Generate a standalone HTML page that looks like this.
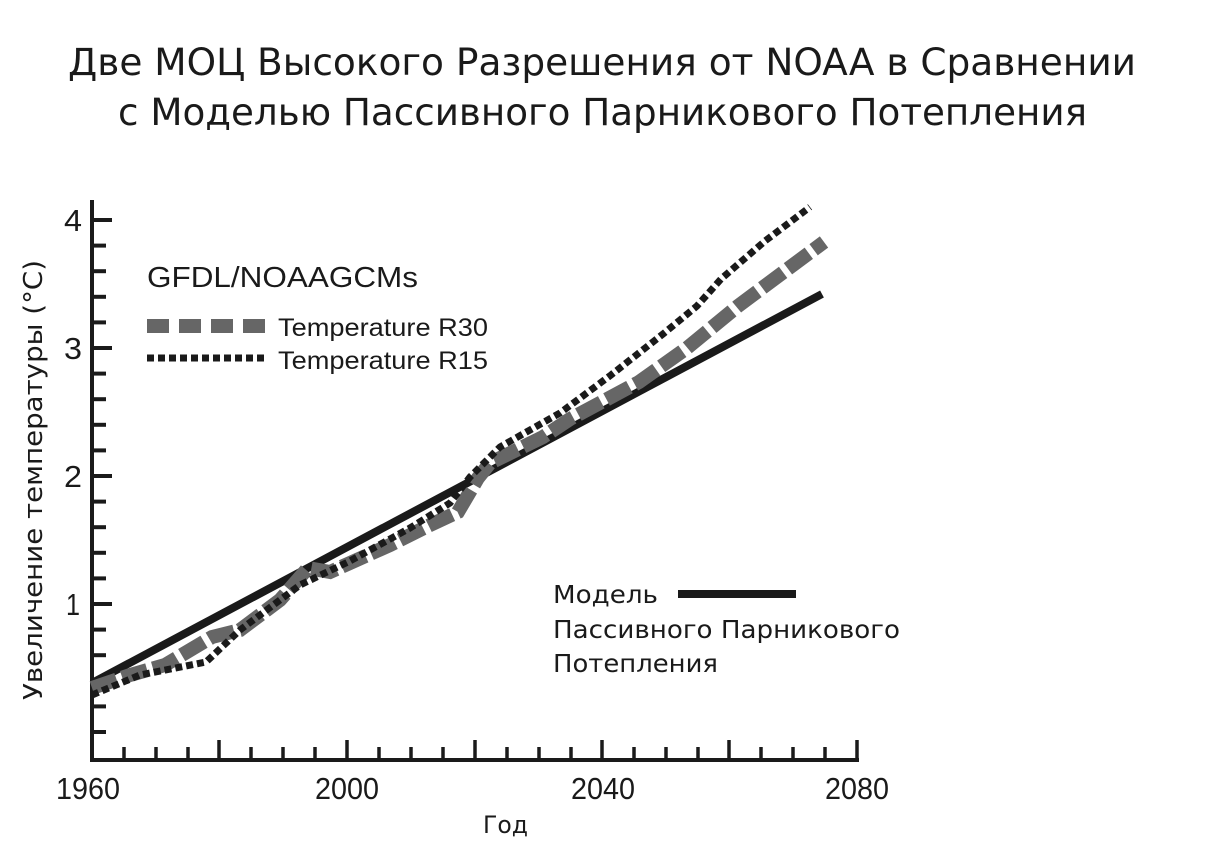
<!DOCTYPE html>
<html><head><meta charset="utf-8"><style>
html,body{margin:0;padding:0;background:#fff;}
svg{display:block;}
text{font-family:"Liberation Sans","DejaVu Sans",sans-serif;fill:#1a1a1a;}
.t{font-family:"DejaVu Sans","Liberation Sans",sans-serif;}
</style></head><body>
<svg width="1206" height="859" viewBox="0 0 1206 859" xmlns="http://www.w3.org/2000/svg">
<text class="t" x="68" y="75" font-size="37" textLength="1068" lengthAdjust="spacingAndGlyphs">Две МОЦ Высокого Разрешения от NOAA в Сравнении</text>
<text class="t" x="118" y="125" font-size="37" textLength="969" lengthAdjust="spacingAndGlyphs">с Моделью Пассивного Парникового Потепления</text>

<text class="t" transform="translate(42,700) rotate(-90)" font-size="26" textLength="440" lengthAdjust="spacingAndGlyphs">Увеличение температуры (°C)</text>

<g stroke="#1a1a1a" stroke-width="4" fill="none">
<line x1="92" y1="200" x2="92" y2="762"/>
<line x1="90" y1="760" x2="859" y2="760"/>
</g>
<g stroke="#1a1a1a" stroke-width="4">
<line x1="92" y1="220" x2="112" y2="220"/><line x1="92" y1="245.6" x2="106" y2="245.6"/><line x1="92" y1="271.2" x2="106" y2="271.2"/><line x1="92" y1="296.8" x2="106" y2="296.8"/><line x1="92" y1="322.4" x2="106" y2="322.4"/>
<line x1="92" y1="348" x2="112" y2="348"/><line x1="92" y1="373.6" x2="106" y2="373.6"/><line x1="92" y1="399.2" x2="106" y2="399.2"/><line x1="92" y1="424.8" x2="106" y2="424.8"/><line x1="92" y1="450.4" x2="106" y2="450.4"/>
<line x1="92" y1="476" x2="112" y2="476"/><line x1="92" y1="501.6" x2="106" y2="501.6"/><line x1="92" y1="527.2" x2="106" y2="527.2"/><line x1="92" y1="552.8" x2="106" y2="552.8"/><line x1="92" y1="578.4" x2="106" y2="578.4"/>
<line x1="92" y1="604" x2="112" y2="604"/><line x1="92" y1="629.6" x2="106" y2="629.6"/><line x1="92" y1="655.2" x2="106" y2="655.2"/><line x1="92" y1="680.8" x2="106" y2="680.8"/><line x1="92" y1="706.4" x2="106" y2="706.4"/><line x1="92" y1="732" x2="106" y2="732"/>
</g>
<g stroke="#1a1a1a" stroke-width="3.5">
<line x1="124" y1="760" x2="124" y2="747"/><line x1="156" y1="760" x2="156" y2="747"/><line x1="188" y1="760" x2="188" y2="747"/><line x1="219" y1="760" x2="219" y2="740"/>
<line x1="251" y1="760" x2="251" y2="747"/><line x1="283" y1="760" x2="283" y2="747"/><line x1="315" y1="760" x2="315" y2="747"/><line x1="347" y1="760" x2="347" y2="740"/>
<line x1="379" y1="760" x2="379" y2="747"/><line x1="411" y1="760" x2="411" y2="747"/><line x1="443" y1="760" x2="443" y2="747"/><line x1="475" y1="760" x2="475" y2="740"/>
<line x1="507" y1="760" x2="507" y2="747"/><line x1="539" y1="760" x2="539" y2="747"/><line x1="571" y1="760" x2="571" y2="747"/><line x1="602" y1="760" x2="602" y2="740"/>
<line x1="634" y1="760" x2="634" y2="747"/><line x1="666" y1="760" x2="666" y2="747"/><line x1="698" y1="760" x2="698" y2="747"/><line x1="729" y1="760" x2="729" y2="740"/>
<line x1="761" y1="760" x2="761" y2="747"/><line x1="793" y1="760" x2="793" y2="747"/><line x1="825" y1="760" x2="825" y2="747"/><line x1="857" y1="760" x2="857" y2="740"/>
</g>
<g font-size="31">
<text x="64" y="231" textLength="18" lengthAdjust="spacingAndGlyphs">4</text>
<text x="64" y="359" textLength="18" lengthAdjust="spacingAndGlyphs">3</text>
<text x="64" y="487" textLength="18" lengthAdjust="spacingAndGlyphs">2</text>
<text x="66" y="615" textLength="14" lengthAdjust="spacingAndGlyphs">1</text>
<text x="56" y="799" textLength="64" lengthAdjust="spacingAndGlyphs">1960</text>
<text x="315" y="799" textLength="64" lengthAdjust="spacingAndGlyphs">2000</text>
<text x="571" y="799" textLength="64" lengthAdjust="spacingAndGlyphs">2040</text>
<text x="825" y="799" textLength="64" lengthAdjust="spacingAndGlyphs">2080</text>
</g>
<text class="t" x="483" y="833" font-size="24" textLength="45" lengthAdjust="spacingAndGlyphs">Год</text>

<line x1="92" y1="683" x2="822" y2="294" stroke="#1a1a1a" stroke-width="8"/>
<polyline fill="none" stroke="#666" stroke-width="14" stroke-dasharray="26 6" points="92,688 130,675 165,665 212,637 240,630 280,600 308,568 330,572 350,563 390,545 430,525 458,512 478,478 490,463 543,437 570,419 639,382 687,348 738,306 793,265 824,242"/>
<polyline fill="none" stroke="#1a1a1a" stroke-width="7" stroke-dasharray="7 4" points="92,695 140,675 206,662 240,630 300,585 350,561 410,528 450,503 470,477 500,447 560,413 611,375 663,334 697,306 721,279 765,241 810,207"/>

<text x="147" y="287" font-size="29" textLength="271" lengthAdjust="spacingAndGlyphs">GFDL/NOAAGCMs</text>
<line x1="147" y1="326" x2="265" y2="326" stroke="#666" stroke-width="14" stroke-dasharray="22 10"/>
<line x1="147" y1="358" x2="265" y2="358" stroke="#1a1a1a" stroke-width="7" stroke-dasharray="7 4"/>
<text x="278" y="336" font-size="25" textLength="210" lengthAdjust="spacingAndGlyphs">Temperature R30</text>
<text x="278" y="369" font-size="25" textLength="210" lengthAdjust="spacingAndGlyphs">Temperature R15</text>

<text class="t" x="553" y="603" font-size="25" textLength="105" lengthAdjust="spacingAndGlyphs">Модель</text>
<text class="t" x="553" y="638" font-size="25" textLength="347" lengthAdjust="spacingAndGlyphs">Пассивного Парникового</text>
<text class="t" x="553" y="672" font-size="25" textLength="165" lengthAdjust="spacingAndGlyphs">Потепления</text>
<line x1="678" y1="594" x2="796" y2="594" stroke="#1a1a1a" stroke-width="8"/>
</svg>
</body></html>
